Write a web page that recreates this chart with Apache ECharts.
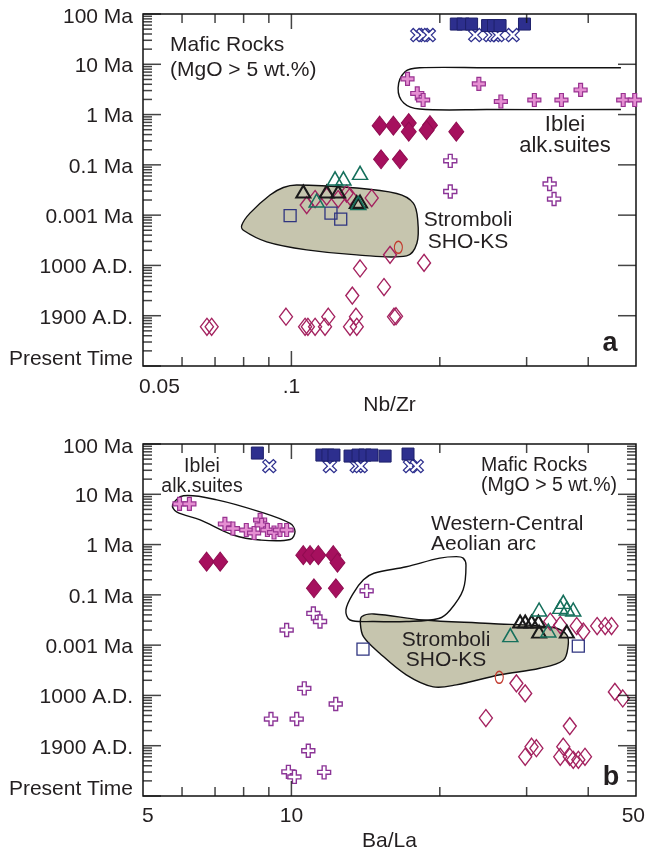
<!DOCTYPE html>
<html>
<head>
<meta charset="utf-8">
<script src="https://cdn.jsdelivr.net/npm/echarts@6/dist/echarts.min.js"></script>
<style>
html,body{margin:0;padding:0;background:#fff;}
#chart{width:646px;height:853px;}
</style>
</head>
<body>
<div id="chart"></div>
<script>
// ---------- tick labels ----------
const ageLabels = ['Present Time','1900 A.D.','1000 A.D.','0.001 Ma','0.1 Ma','1 Ma','10 Ma','100 Ma'];
const nbzrTickValues = [0.06,0.07,0.08,0.09,0.1,0.2,0.3,0.4];
const nbzrMajorTicks = [0.1];
const nbzrTickLabels = [[0.05,'0.05'],[0.1,'.1']];
const balaTickValues = [6,7,8,9,10,20,30,40];
const balaMajorTicks = [10];
const balaTickLabels = [[5,'5'],[10,'10'],[50,'50']];

// ---------- panel a : Nb/Zr vs age position ----------
const nbzrFilledSquares = [[0.216,6.80],[0.223,6.80],[0.232,6.80],[0.250,6.77],[0.257,6.77],[0.265,6.77],[0.297,6.80]];
const nbzrXMarks = [[0.180,6.58],[0.185,6.58],[0.190,6.58],[0.236,6.58],[0.253,6.58],[0.258,6.58],[0.262,6.58],[0.281,6.58]];
const nbzrIbleiCrosses = [[0.172,5.71],[0.180,5.42],[0.185,5.29],[0.240,5.61],[0.266,5.26],[0.311,5.29],[0.353,5.29],[0.386,5.49],[0.471,5.29],[0.497,5.29]];
const nbzrFilledDiamonds = [[0.151,4.78],[0.161,4.78],[0.173,4.83],[0.191,4.79],[0.173,4.66],[0.188,4.69],[0.216,4.66],[0.152,4.11],[0.166,4.11]];
const nbzrOpenCrosses = [[0.210,4.08],[0.210,3.47],[0.334,3.62],[0.341,3.32]];
const nbzrGreenTriangles = [[0.1226,3.73],[0.1275,3.73],[0.1378,3.84],[0.1125,3.29],[0.1367,3.24]];
const nbzrBlackTriangles = [[0.1057,3.47],[0.1179,3.47],[0.1244,3.47],[0.1357,3.26],[0.1378,3.27]];
const nbzrOpenDiamonds = [[0.1074,3.20],[0.1117,3.32],[0.1179,3.37],[0.1244,3.32],[0.1294,3.43],[0.1315,3.37],[0.1455,3.34],
  [0.1585,2.21],[0.1858,2.05],[0.1378,1.94],[0.1541,1.57],[0.1329,1.40],[0.1615,0.98],[0.163,0.99],[0.0975,0.98],[0.1188,0.98],
  [0.1352,0.98],[0.0689,0.78],[0.0674,0.78],[0.1066,0.78],[0.108,0.78],[0.1117,0.78],[0.117,0.78],[0.1315,0.78],[0.1357,0.78]];
const nbzrOpenSquares = [[0.0994,2.99],[0.1203,3.04],[0.1259,2.92]];
const nbzrEllipses = [[0.1648,2.36]];
const nbzrStromboliField = [[0.1025,3.60],[0.1315,3.55],[0.1635,3.43],[0.1767,3.24],[0.1804,2.90],[0.1797,2.44],[0.1713,2.19],
  [0.1357,2.21],[0.1074,2.31],[0.0891,2.47],[0.0799,2.70],[0.0793,2.80],[0.0824,3.04],[0.0905,3.40],[0.0963,3.55]];
const nbzrIbleiField = [[0.466,5.93],[0.25,5.93],[0.182,5.93],[0.170,5.85],[0.1646,5.53],[0.169,5.23],[0.182,5.11],[0.25,5.10],[0.466,5.10]];

// ---------- panel b : Ba/La vs age position ----------
const balaFilledSquares = [[8.53,6.82],[11.53,6.78],[11.86,6.78],[12.20,6.78],[13.15,6.76],[13.65,6.78],[14.10,6.78],[14.57,6.78],[15.49,6.76],[17.24,6.80]];
const balaXMarks = [[9.02,6.56],[11.97,6.56],[13.57,6.56],[13.82,6.56],[17.40,6.56],[17.96,6.56]];
const balaIbleiCrosses = [[5.93,5.81],[6.21,5.81],[7.33,5.41],[7.61,5.32],[8.10,5.29],[8.40,5.23],[8.64,5.49],[8.70,5.39],[8.94,5.29],[9.22,5.24],[9.48,5.29],[9.78,5.29]];
const balaFilledDiamonds = [[6.73,4.66],[7.17,4.66],[10.57,4.79],[10.91,4.79],[11.34,4.79],[12.16,4.79],[12.40,4.64],[11.11,4.13],[12.31,4.13]];
const balaOpenCrosses = [[14.21,4.08],[11.08,3.63],[11.43,3.47],[9.78,3.30],[10.62,2.14],[12.30,1.83],[9.09,1.53],[10.25,1.53],[10.82,0.90],[9.86,0.48],[10.14,0.38],[11.65,0.47]];
const balaOpenSquares = [[13.97,2.92],[38.19,2.98]];
const balaGreenTriangles = [[31.8,3.71],[35.1,3.76],[35.6,3.86],[36.2,3.73],[37.3,3.71],[27.8,3.20],[33.2,3.29]];
const balaBlackTriangles = [[29.1,3.47],[29.8,3.47],[30.7,3.47],[31.7,3.47],[31.8,3.27],[36.2,3.27]];
const balaOpenDiamonds = [[33.5,3.47],[35.1,3.40],[37.9,3.38],[39.1,3.27],[41.7,3.38],[43.3,3.38],[44.6,3.38],[28.6,2.24],[29.8,2.04],
  [24.8,1.55],[36.7,1.39],[45.3,2.07],[47.0,1.94],[30.7,0.98],[31.4,0.95],[29.8,0.78],[35.6,0.98],[35.1,0.78],[36.7,0.78],[37.3,0.72],[39.4,0.78],[38.2,0.72]];
const balaEllipses = [[26.4,2.36]];
const balaIbleiField = [[5.74,5.79],[6.04,5.97],[7.06,5.89],[8.64,5.65],[9.94,5.42],[10.17,5.26],[9.94,5.10],[8.64,5.09],[7.62,5.19],[6.53,5.49],[5.85,5.65]];
const balaWCField = [[22.3,4.73],[22.6,4.59],[22.3,4.10],[21.0,3.70],[19.9,3.53],[17.1,3.47],[14.7,3.47],[13.15,3.50],[12.9,3.70],[13.35,4.03],[14.0,4.30],[14.7,4.43],[17.1,4.56],[20.0,4.73],[21.6,4.76]];
const balaStromboliField = [[13.9,3.57],[14.7,3.62],[18.5,3.50],[25.3,3.43],[34.0,3.35],[36.2,3.20],[36.4,2.97],[35.6,2.70],[31.9,2.54],[26.5,2.41],[21.6,2.21],[19.4,2.17],[17.1,2.41],[15.1,2.84],[14.0,3.17],[13.8,3.43]];

// ---------- styling ----------
const FONT = "'Liberation Sans', Arial, Helvetica, sans-serif";
const TXT = '#231f20';
const TICK = '#151515';
const plusPath = 'path://M3.5,0H6.5V3.5H10V6.5H6.5V10H3.5V6.5H0V3.5H3.5Z';
const xPath = 'path://M3.8,0H6.2V3.8H10V6.2H6.2V10H3.8V6.2H0V3.8H3.8Z';
const CLEAR = 'rgba(0,0,0,0)';

function scatter(g, data, symbol, size, fill, stroke, bw, extra) {
  return Object.assign({
    type:'scatter', xAxisIndex:g, yAxisIndex:g, data:data, symbol:symbol, symbolSize:size,
    itemStyle:{color:fill, borderColor:stroke, borderWidth:bw, opacity:1},
    silent:true, z:3, clip:false, emphasis:{disabled:true}
  }, extra||{});
}
function field(g, pts, fill, closed, z) {
  return {
    type:'custom', xAxisIndex:g, yAxisIndex:g, data:[[pts[0][0],pts[0][1]]], silent:true, z:z||1, clip:false,
    renderItem:function(params, api){
      const p = pts.map(function(d){ return api.coord(d); });
      return {type: closed ? 'polygon' : 'polyline', shape:{points:p, smooth:0.35},
        style:{fill: closed ? fill : null, stroke:'#111', lineWidth:1.4}};
    }
  };
}
function labelSeries(g, labels, yv, offsets) {
  return {
    type:'custom', xAxisIndex:g, yAxisIndex:g, silent:true, z:6, clip:false,
    data: labels.map(function(l){ return [l[0], yv]; }),
    renderItem:function(params, api){
      const l = labels[params.dataIndex];
      const o = offsets[params.dataIndex];
      const p = api.coord([l[0], yv]);
      return {type:'text', x:p[0]+o[0], y:p[1]+o[1],
        style:{text:l[1], fill:TXT, font:'21px '+FONT, align:o[2], verticalAlign:'middle'}};
    }
  };
}
// tick marks: thin bars at the tick values, drawn through the panel's scales and pushed inward
function tickMarks(g, data, dir, len) {
  const w = 1.5;
  const size = (dir === 'up' || dir === 'down') ? [w, len] : [len, w];
  const off = dir === 'up' ? [0, -len/2] : dir === 'down' ? [0, len/2] : dir === 'right' ? [len/2, 0] : [-len/2, 0];
  return {type:'scatter', xAxisIndex:g, yAxisIndex:g, data:data, symbol:'rect', symbolSize:size, symbolOffset:off,
    itemStyle:{color:TICK}, z:7, clip:false};
}
function tickGroup(g, xvals, xmajor, xmin, xmax, rightMinor) {
  const upMaj = [], upMin = [], dnMaj = [], dnMin = [], lMaj = [], lMin = [], rMaj = [], rMin = [];
  xvals.forEach(function(v){
    if (xmajor.indexOf(v) >= 0) { upMaj.push([v, 0]); dnMaj.push([v, 7]); }
    else { upMin.push([v, 0]); dnMin.push([v, 7]); }
  });
  for (let k = 0; k <= 7; k++) {
    lMaj.push([xmin, k]);
    if (k >= 1 && k <= 6) rMaj.push([xmax, k]);
    if (k < 7) {
      for (let m = 2; m <= 9; m++) {
        const yv = k + Math.log10(m);
        lMin.push([xmin, yv]);
        if (rightMinor) rMin.push([xmax, yv]);
      }
    }
  }
  const out = [
    tickMarks(g, upMaj, 'up', 15), tickMarks(g, upMin, 'up', 9),
    tickMarks(g, dnMaj, 'down', 15), tickMarks(g, dnMin, 'down', 9),
    tickMarks(g, lMaj, 'right', 18), tickMarks(g, lMin, 'right', 9),
    tickMarks(g, rMaj, 'left', 18)
  ];
  if (rightMinor) out.push(tickMarks(g, rMin, 'left', 9));
  return out;
}

function yAxisDef(g) {
  return {
    type:'value', gridIndex:g, min:0, max:7, interval:1,
    axisLine:{show:false}, axisTick:{show:false}, splitLine:{show:false},
    axisLabel:{
      margin:10, color:TXT, fontSize:21, fontFamily:FONT,
      formatter:function(v){
        const i = Math.round(v); const s = ageLabels[i];
        if (i === 0) return '{b|' + s + '}';
        if (i === 7) return '{t|' + s + '}';
        return '{n|' + s + '}';
      },
      rich:{
        b:{padding:[0,0,14,0], fontSize:21, fontFamily:FONT, color:TXT},
        t:{padding:[6,0,0,0], fontSize:21, fontFamily:FONT, color:TXT},
        n:{padding:[4,0,0,0], fontSize:21, fontFamily:FONT, color:TXT}
      }
    }
  };
}
function xAxisDef(g, min, max, name, gap) {
  return {
    type:'log', logBase:10, gridIndex:g, min:min, max:max,
    axisLine:{show:false}, axisTick:{show:false}, axisLabel:{show:false}, splitLine:{show:false},
    name:name, nameLocation:'middle', nameGap:gap,
    nameTextStyle:{fontSize:21, color:TXT, fontFamily:FONT, verticalAlign:'middle'}
  };
}

function panelSeries(g, d) {
  return [
    field(g, d.strom, '#c6c5ae', true, 1),
    field(g, d.iblei, null, d.ibleiClosed, 1),
    d.wc ? field(g, d.wc, null, true, 2) : null,
    scatter(g, d.openDiamonds, 'diamond', [13,17], CLEAR, '#a4225f', 1.4),
    scatter(g, d.ellipses, 'circle', [8,12], CLEAR, '#c23a2e', 1.3),
    scatter(g, d.openSquares, 'rect', 12, CLEAR, '#2f3580', 1.3),
    scatter(g, d.blackTri, 'triangle', [14,12], CLEAR, '#1a1a1a', 2),
    scatter(g, d.greenTri, 'triangle', [15,13], CLEAR, '#16705c', 1.5),
    scatter(g, d.openCrosses, plusPath, 13, '#ffffff', '#8c3597', 1.4),
    scatter(g, d.filledDiamonds, 'diamond', [15,19], '#a6105e', '#8f0c50', 1),
    scatter(g, d.ibleiCrosses, plusPath, 13, '#e58fd2', '#993391', 1.2),
    scatter(g, d.xMarks, xPath, 15, '#ffffff', '#2d2f8e', 1.3, {symbolRotate:45}),
    scatter(g, d.filledSquares, 'rect', 12, '#2d2f8e', '#1e206a', 1)
  ].filter(Boolean);
}

const series = [].concat(
  tickGroup(0, nbzrTickValues, nbzrMajorTicks, 0.05, 0.5, false),
  tickGroup(1, balaTickValues, balaMajorTicks, 5, 50, true),
  panelSeries(0, {strom:nbzrStromboliField, iblei:nbzrIbleiField, ibleiClosed:false,
    openDiamonds:nbzrOpenDiamonds, ellipses:nbzrEllipses, openSquares:nbzrOpenSquares, blackTri:nbzrBlackTriangles,
    greenTri:nbzrGreenTriangles, openCrosses:nbzrOpenCrosses, filledDiamonds:nbzrFilledDiamonds,
    ibleiCrosses:nbzrIbleiCrosses, xMarks:nbzrXMarks, filledSquares:nbzrFilledSquares}),
  panelSeries(1, {strom:balaStromboliField, iblei:balaIbleiField, ibleiClosed:true, wc:balaWCField,
    openDiamonds:balaOpenDiamonds, ellipses:balaEllipses, openSquares:balaOpenSquares, blackTri:balaBlackTriangles,
    greenTri:balaGreenTriangles, openCrosses:balaOpenCrosses, filledDiamonds:balaFilledDiamonds,
    ibleiCrosses:balaIbleiCrosses, xMarks:balaXMarks, filledSquares:balaFilledSquares}),
  [
    labelSeries(0, nbzrTickLabels, 0, [[-4,21,'left'],[0,21,'center']]),
    labelSeries(1, balaTickLabels, 0, [[-1,20,'left'],[0,20,'center'],[9,20,'right']])
  ]
);

function txt(x, y, text, size, align, lh, bold) {
  return {type:'text', x:x, y:y, silent:true, z:10,
    style:{text:text, fill:TXT, font:(bold?'bold ':'') + size + 'px ' + FONT, align:align, verticalAlign:'middle', lineHeight:lh}};
}
const annotations = [
  txt(170, 57.5, 'Mafic Rocks\n(MgO > 5 wt.%)', 21, 'left', 25),
  txt(565, 135.5, 'Iblei\nalk.suites', 22, 'center', 21),
  txt(468, 231, 'Stromboli\nSHO-KS', 21, 'center', 22),
  txt(610, 344, 'a', 27, 'center', 27, true),
  txt(202, 476.5, 'Iblei\nalk.suites', 19.5, 'center', 19.5),
  txt(481, 475.5, 'Mafic Rocks\n(MgO > 5 wt.%)', 19.5, 'left', 19.5),
  txt(431, 534, 'Western-Central\nAeolian arc', 21, 'left', 19.5),
  txt(446, 650, 'Stromboli\nSHO-KS', 21, 'center', 20),
  txt(611, 778, 'b', 27, 'center', 27, true)
];

const chart = echarts.init(document.getElementById('chart'), null, {renderer:'canvas'});
chart.setOption({
  animation:false,
  backgroundColor:'#ffffff',
  grid:[
    {left:143, top:14, width:493, height:352, show:true, borderColor:'#111', borderWidth:1.5, backgroundColor:'transparent'},
    {left:143, top:444, width:493, height:352, show:true, borderColor:'#111', borderWidth:1.5, backgroundColor:'transparent'}
  ],
  xAxis:[xAxisDef(0, 0.05, 0.5, 'Nb/Zr', 39), xAxisDef(1, 5, 50, 'Ba/La', 45)],
  yAxis:[yAxisDef(0), yAxisDef(1)],
  series:series,
  graphic:annotations
});
</script>
</body>
</html>
